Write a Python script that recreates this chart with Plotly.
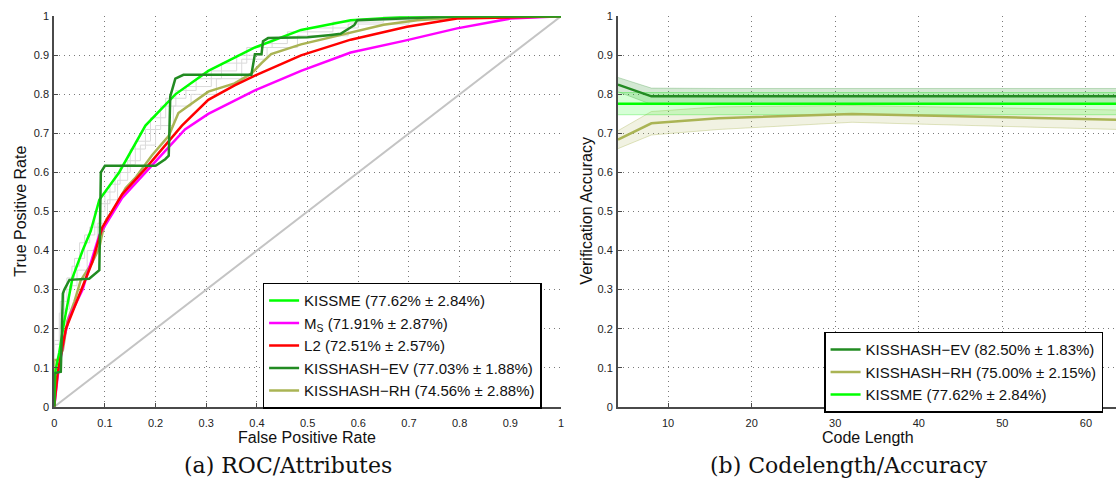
import numpy as np
import plotly.graph_objects as go

# ---------------- (a) ROC curves on the attribute features ----------------
kissme_fpr = [0, 0.002, 0.01, 0.02, 0.036, 0.056, 0.072, 0.089, 0.128, 0.18, 0.239, 0.304, 0.396, 0.487, 0.585, 0.716, 1.0]
kissme_tpr = [0, 0.09, 0.14, 0.22, 0.33, 0.40, 0.45, 0.53, 0.60, 0.72, 0.80, 0.86, 0.92, 0.965, 0.99, 1.0, 1.0]

ms_fpr = [0, 0.007, 0.02, 0.03, 0.056, 0.089, 0.134, 0.18, 0.226, 0.258, 0.304, 0.396, 0.487, 0.585, 0.69, 0.795, 0.9, 1.0]
ms_tpr = [0, 0.08, 0.18, 0.23, 0.30, 0.44, 0.535, 0.60, 0.665, 0.71, 0.75, 0.81, 0.86, 0.907, 0.937, 0.969, 0.994, 1.0]

l2_fpr = [0, 0.007, 0.023, 0.056, 0.075, 0.095, 0.134, 0.18, 0.252, 0.304, 0.356, 0.396, 0.487, 0.585, 0.696, 0.795, 1.0]
l2_tpr = [0, 0.09, 0.20, 0.31, 0.37, 0.46, 0.544, 0.61, 0.72, 0.786, 0.823, 0.848, 0.90, 0.94, 0.973, 0.994, 1.0]

ev_fpr = [0, 0, 0.013, 0.017, 0.02, 0.03, 0.069, 0.089, 0.092, 0.1, 0.2, 0.219, 0.226, 0.229, 0.239, 0.255,
          0.389, 0.396, 0.409, 0.412, 0.422, 0.5, 0.546, 0.565, 0.592, 0.598, 0.7, 0.8, 1.0]
ev_tpr = [0, 0.086, 0.09, 0.29, 0.30, 0.325, 0.328, 0.35, 0.60, 0.617, 0.617, 0.634, 0.643, 0.795, 0.84, 0.85,
          0.85, 0.903, 0.903, 0.936, 0.944, 0.946, 0.952, 0.955, 0.977, 0.99, 0.995, 1.0, 1.0]

rh_fpr = [0, 0, 0.007, 0.017, 0.026, 0.04, 0.052, 0.075, 0.089, 0.095, 0.103, 0.115, 0.141, 0.16, 0.193, 0.226,
          0.245, 0.272, 0.304, 0.356, 0.389, 0.409, 0.428, 0.487, 0.585, 0.65, 0.716, 0.795, 1.0]
rh_tpr = [0, 0.12, 0.12, 0.145, 0.22, 0.27, 0.323, 0.37, 0.407, 0.445, 0.48, 0.50, 0.56, 0.586, 0.644, 0.694,
          0.752, 0.778, 0.807, 0.828, 0.853, 0.88, 0.903, 0.928, 0.957, 0.978, 0.99, 0.997, 1.0]

# individual random-hashing folds (faint step curves)
fold1_fpr = [0, 0.01, 0.02, 0.035, 0.05, 0.07, 0.09, 0.11, 0.13, 0.16, 0.19, 0.22, 0.26, 0.31, 0.36, 0.41, 0.46, 0.55, 0.65, 0.8, 1.0]
fold1_tpr = [0.10, 0.16, 0.24, 0.30, 0.36, 0.42, 0.46, 0.52, 0.57, 0.62, 0.68, 0.74, 0.79, 0.82, 0.86, 0.90, 0.93, 0.96, 0.985, 1.0, 1.0]
fold2_fpr = [0, 0.012, 0.025, 0.04, 0.06, 0.08, 0.1, 0.12, 0.15, 0.18, 0.21, 0.24, 0.28, 0.33, 0.38, 0.43, 0.5, 0.6, 0.72, 0.85, 1.0]
fold2_tpr = [0.13, 0.20, 0.27, 0.33, 0.38, 0.44, 0.50, 0.55, 0.60, 0.66, 0.71, 0.77, 0.81, 0.84, 0.88, 0.92, 0.945, 0.97, 0.99, 1.0, 1.0]
fold3_fpr = [0, 0.015, 0.03, 0.045, 0.065, 0.085, 0.105, 0.125, 0.145, 0.17, 0.2, 0.235, 0.27, 0.32, 0.37, 0.42, 0.48, 0.58, 0.7, 0.82, 1.0]
fold3_tpr = [0.11, 0.17, 0.25, 0.31, 0.35, 0.40, 0.47, 0.53, 0.58, 0.63, 0.67, 0.72, 0.77, 0.80, 0.84, 0.89, 0.92, 0.95, 0.98, 0.995, 1.0]

roc_ticks = [0, 0.1, 0.2, 0.3, 0.4, 0.5, 0.6, 0.7, 0.8, 0.9, 1.0]
roc_tick_labels = ["0", "0.1", "0.2", "0.3", "0.4", "0.5", "0.6", "0.7", "0.8", "0.9", "1"]

roc_names = ["KISSME (77.62% ± 2.84%)", "M<sub>S</sub> (71.91% ± 2.87%)", "L2 (72.51% ± 2.57%)",
             "KISSHASH−EV (77.03% ± 1.88%)", "KISSHASH−RH (74.56% ± 2.88%)"]

# ---------------- (b) verification accuracy vs. code length ----------------
code_lengths = [4, 8, 16, 32, 64]
ev_acc = [0.825, 0.795, 0.795, 0.795, 0.795]
ev_std = [0.0183, 0.021, 0.020, 0.020, 0.020]
rh_acc = [0.684, 0.726, 0.739, 0.750, 0.735]
rh_std = [0.023, 0.030, 0.029, 0.0215, 0.025]
kissme_acc = [0.7762, 0.7762, 0.7762, 0.7762, 0.7762]
kissme_std = [0.0284, 0.0284, 0.0284, 0.0284, 0.0284]

code_ticks = [10, 20, 30, 40, 50, 60]
code_tick_labels = ["10", "20", "30", "40", "50", "60"]

cl_names = ["KISSHASH−EV (82.50% ± 1.83%)", "KISSHASH−RH (75.00% ± 2.15%)", "KISSME (77.62% ± 2.84%)"]

# ---------------- styling ----------------
C_KISSME = "#00ff00"
C_MS = "#ff00ff"
C_L2 = "#ff0000"
C_EV = "#228b22"
C_RH = "#aab454"
SANS = "Liberation Sans, Arial, sans-serif"
SERIF = "DejaVu Serif, serif"

fig = go.Figure()

# chance diagonal
fig.add_trace(go.Scatter(x=[0, 1], y=[0, 1], mode="lines", line=dict(color="#c4c4c4", width=2),
                         showlegend=False, hoverinfo="skip", xaxis="x", yaxis="y"))
for fx, fy in [(fold1_fpr, fold1_tpr), (fold2_fpr, fold2_tpr), (fold3_fpr, fold3_tpr)]:
    fig.add_trace(go.Scatter(x=fx, y=fy, mode="lines", line=dict(color="#dadada", width=1, shape="vh"),
                             showlegend=False, hoverinfo="skip", xaxis="x", yaxis="y"))

roc_series = [
    (kissme_fpr, kissme_tpr, C_KISSME),
    (ms_fpr, ms_tpr, C_MS),
    (l2_fpr, l2_tpr, C_L2),
    (ev_fpr, ev_tpr, C_EV),
    (rh_fpr, rh_tpr, C_RH),
]
# draw order: RH first so the others sit on top, legend order kept via legendrank
draw_order = [4, 1, 2, 0, 3]
for i in draw_order:
    fx, fy, col = roc_series[i]
    fig.add_trace(go.Scatter(x=fx, y=fy, mode="lines", name=roc_names[i], line=dict(color=col, width=2.5),
                             legend="legend", legendrank=i + 1, xaxis="x", yaxis="y"))


def band(x, m, s, fill, edge):
    """Mean +/- std envelope drawn as a closed polygon."""
    m = np.array(m)
    s = np.array(s)
    up = m + s
    lo = m - s
    return go.Scatter(x=list(x) + list(x)[::-1], y=list(up) + list(lo[::-1]), fill="toself",
                      fillcolor=fill, mode="lines", line=dict(color=edge, width=1),
                      showlegend=False, hoverinfo="skip", xaxis="x2", yaxis="y2")


fig.add_trace(band(code_lengths, ev_acc, ev_std, "rgba(34,139,34,0.20)", "rgba(34,139,34,0.25)"))
fig.add_trace(band(code_lengths, rh_acc, rh_std, "rgba(170,180,84,0.17)", "rgba(170,180,84,0.35)"))
fig.add_trace(band(code_lengths, kissme_acc, kissme_std, "rgba(0,255,0,0.16)", "rgba(0,230,0,0.30)"))

cl_series = [(ev_acc, C_EV), (rh_acc, C_RH), (kissme_acc, C_KISSME)]
for i, (acc, col) in enumerate(cl_series):
    fig.add_trace(go.Scatter(x=code_lengths, y=acc, mode="lines", name=cl_names[i],
                             line=dict(color=col, width=2.5), legend="legend2", legendrank=i + 1,
                             xaxis="x2", yaxis="y2"))

y_dom = [1 - 411 / 484, 1 - 10.5 / 484]
axis_common = dict(showline=True, linecolor="#4a4a4a", linewidth=2, mirror=False, zeroline=False,
                   showgrid=True, gridcolor="#7a7a7a", griddash="1px,4px", gridwidth=1,
                   ticks="inside", ticklen=4, tickcolor="#4a4a4a",
                   tickfont=dict(family=SANS, size=11, color="#222"))

fig.update_layout(
    width=1119, height=484,
    margin=dict(l=0, r=0, t=0, b=0),
    paper_bgcolor="white", plot_bgcolor="white",
    font=dict(family=SANS, color="#111"),
    xaxis=dict(domain=[51.5 / 1119, 561 / 1119], range=[0, 1], tickvals=roc_ticks, ticktext=roc_tick_labels,
               anchor="y", ticklabelstandoff=5, **axis_common),
    yaxis=dict(domain=y_dom, range=[0, 1], tickvals=roc_ticks, ticktext=roc_tick_labels,
               anchor="x", ticklabelstandoff=1, **axis_common),
    xaxis2=dict(domain=[618.3 / 1119, 1.0], range=[4, 63.6], tickvals=code_ticks, ticktext=code_tick_labels,
                anchor="y2", ticklabelstandoff=5, **axis_common),
    yaxis2=dict(domain=y_dom, range=[0, 1], tickvals=roc_ticks, ticktext=roc_tick_labels,
                anchor="x2", ticklabelstandoff=1, **axis_common),
    legend=dict(x=261 / 1119, y=1 - 413 / 484, xanchor="left", yanchor="bottom",
                bgcolor="white", bordercolor="#000", borderwidth=1.5,
                font=dict(family=SANS, size=15, color="#111"), itemwidth=30,
                tracegroupgap=0),
    legend2=dict(x=825.5 / 1119, y=1 - 417 / 484, xanchor="left", yanchor="bottom",
                 bgcolor="white", bordercolor="#000", borderwidth=1.5,
                 font=dict(family=SANS, size=15, color="#111"), itemwidth=30,
                 tracegroupgap=0),
    showlegend=True,
)

annotations = [
    dict(text="False Positive Rate", x=306 / 1119, y=1 - 442 / 484, font=dict(family=SANS, size=16, color="#111")),
    dict(text="True Positive Rate", x=18 / 1119, y=1 - 210 / 484, textangle=-90,
         font=dict(family=SANS, size=16, color="#111")),
    dict(text="Code Length", x=870 / 1119, y=1 - 442 / 484, font=dict(family=SANS, size=16, color="#111")),
    dict(text="Verification Accuracy", x=587 / 1119, y=1 - 210 / 484, textangle=-90,
         font=dict(family=SANS, size=16, color="#111")),
    dict(text="(a) ROC/Attributes", x=287 / 1119, y=1 - 471 / 484, font=dict(family=SERIF, size=22, color="#111")),
    dict(text="(b) Codelength/Accuracy", x=851 / 1119, y=1 - 471 / 484, font=dict(family=SERIF, size=22, color="#111")),
]
for a in annotations:
    fig.add_annotation(xref="paper", yref="paper", showarrow=False, xanchor="center", yanchor="middle", **a)

fig.write_html("out.html")
